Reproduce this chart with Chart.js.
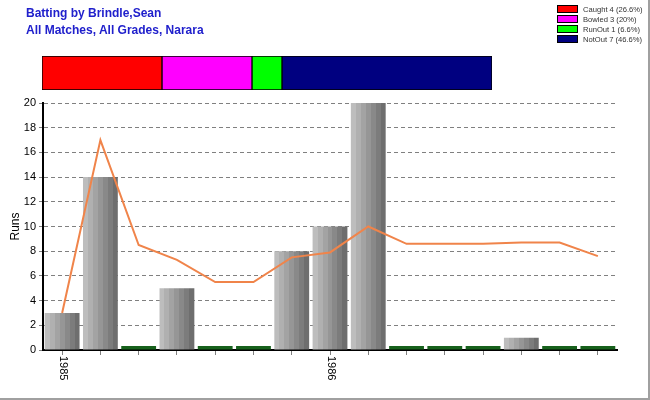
<!DOCTYPE html>
<html>
<head>
<meta charset="utf-8">
<script src="https://cdn.jsdelivr.net/npm/chart.js@4"></script>
<style>
  html, body { margin: 0; padding: 0; background: #fff; }
  #frame {
    position: relative; width: 650px; height: 400px; box-sizing: border-box;
    border-right: 2px solid #a0a0a0; border-bottom: 2px solid #a0a0a0; overflow: hidden;
    font-family: "Liberation Sans", Arial, sans-serif;
  }
  #title {
    position: absolute; left: 26px; top: 5px; color: #2020cc;
    font-weight: bold; font-size: 12px; line-height: 17px;
  }
  #main { position: absolute; left: 0; top: 0; }
  #split { position: absolute; left: 42px; top: 56px; }
  #legend { position: absolute; left: 557px; top: 5px; font-size: 7.6px; color: #333; }
  #legend .row { height: 10px; line-height: 10px; white-space: nowrap; }
  #legend .sw {
    display: inline-block; width: 19px; height: 6px; border: 1px solid #000;
    vertical-align: middle; margin-right: 5px; margin-top: -2px;
  }
</style>
</head>
<body>
<div id="frame">
  <canvas id="main" width="648" height="398"></canvas>
  <canvas id="split" width="450" height="34"></canvas>
  <div id="title">Batting by Brindle,Sean<br>All Matches, All Grades, Narara</div>
  <div id="legend"></div>
</div>
<script>
"use strict";

// innings in order
const INNINGS_LABELS = ["1985", "", "", "", "", "", "", "1986", "", "", "", "", "", "", ""];
const RUNS = [3, 14, 0, 5, 0, 0, 8, 10, 20, 0, 0, 0, 1, 0, 0];
const AVERAGE = [3, 17, 8.5, 7.3, 5.5, 5.5, 7.5, 7.9, 10, 8.6, 8.6, 8.6, 8.7, 8.7, 7.6];
const Y_TICKS = [0, 2, 4, 6, 8, 10, 12, 14, 16, 18, 20];

// how out
const OUT_TYPES = ["Caught", "Bowled", "RunOut", "NotOut"];
const OUT_COUNTS = [4, 3, 1, 7];
const OUT_COLORS = ["#ff0000", "#ff00ff", "#00ff00", "#000080"];

const BAR_BANDS = ["#bdbdbd", "#b0b0b0", "#a3a3a3", "#969696", "#898989", "#7c7c7c", "#6e6e6e"];
const ZERO_COLOR = "#17611c";
const BAR_PCT = 0.91;

function barFill(c) {
  const chart = c.chart;
  const xs = chart.scales.x;
  if (!xs || !chart.chartArea) return BAR_BANDS[3];
  if (c.raw === 0) return ZERO_COLOR;
  const w = (xs.width / RUNS.length) * BAR_PCT;
  const cx = xs.getPixelForValue(c.dataIndex);
  const g = chart.ctx.createLinearGradient(cx - w / 2, 0, cx + w / 2, 0);
  const n = BAR_BANDS.length;
  BAR_BANDS.forEach((col, i) => {
    g.addColorStop(i / n, col);
    g.addColorStop(Math.min(1, (i + 1) / n - 0.0001), col);
  });
  return g;
}

const rotatedLabels = {
  id: "rotatedLabels",
  afterDraw(chart) {
    const xs = chart.scales.x;
    const ctx = chart.ctx;
    ctx.save();
    ctx.font = "11px 'Liberation Sans', Arial, sans-serif";
    ctx.fillStyle = "#000";
    ctx.textAlign = "left";
    ctx.textBaseline = "middle";
    INNINGS_LABELS.forEach((lab, i) => {
      if (!lab) return;
      const x = xs.getPixelForValue(i);
      ctx.save();
      ctx.translate(x + 1, chart.chartArea.bottom + 6);
      ctx.rotate(Math.PI / 2);
      ctx.fillText(lab, 0, 0);
      ctx.restore();
    });
    ctx.restore();
  },
};

new Chart(document.getElementById("main"), {
  type: "bar",
  data: {
    labels: INNINGS_LABELS,
    datasets: [
      {
        type: "line",
        data: AVERAGE,
        borderColor: "#f0844a",
        borderWidth: 2,
        pointRadius: 0,
        tension: 0,
        order: 0,
      },
      {
        data: RUNS,
        backgroundColor: barFill,
        borderWidth: 0,
        minBarLength: 4,
        barPercentage: BAR_PCT,
        categoryPercentage: 1,
        order: 1,
      },
    ],
  },
  options: {
    responsive: false,
    animation: false,
    events: [],
    layout: { padding: { top: 103, right: 31, bottom: 0, left: 0 } },
    plugins: { legend: { display: false }, tooltip: { enabled: false } },
    scales: {
      x: {
        z: 1,
        afterFit: (s) => { s.height = 48; },
        ticks: { display: false },
        grid: { offset: false, drawOnChartArea: false, drawTicks: true, tickLength: 5, color: "#808080" },
        border: { display: true, color: "#000", width: 2 },
      },
      y: {
        min: 0,
        max: 20,
        afterFit: (s) => { s.width = 43; },
        afterBuildTicks: (s) => { s.ticks = Y_TICKS.map((v) => ({ value: v })); },
        ticks: {
          color: "#000",
          padding: 3,
          font: { family: "'Liberation Sans', Arial, sans-serif", size: 11 },
        },
        grid: {
          color: "#808080",
          tickColor: "#808080",
          tickLength: 4,
        },
        border: { display: true, color: "#000", width: 2, dash: [4, 3] },
        title: {
          display: true,
          text: "Runs",
          color: "#000",
          padding: { top: 8, bottom: 0 },
          font: { family: "'Liberation Sans', Arial, sans-serif", size: 12 },
        },
      },
    },
  },
  plugins: [rotatedLabels],
});

// out-type split bar
const total = OUT_COUNTS.reduce((a, b) => a + b, 0);
new Chart(document.getElementById("split"), {
  type: "bar",
  data: {
    labels: [""],
    datasets: OUT_TYPES.map((t, i) => ({
      label: t,
      data: [OUT_COUNTS[i]],
      backgroundColor: OUT_COLORS[i],
      borderColor: "#000",
      borderWidth: 1,
      borderSkipped: false,
      barPercentage: 1,
      categoryPercentage: 1,
    })),
  },
  options: {
    indexAxis: "y",
    responsive: false,
    animation: false,
    events: [],
    layout: { padding: 0 },
    plugins: { legend: { display: false }, tooltip: { enabled: false } },
    scales: {
      x: { stacked: true, min: 0, max: total, display: false },
      y: { stacked: true, display: false },
    },
  },
});

const legend = document.getElementById("legend");
OUT_TYPES.forEach((t, i) => {
  const pct = Math.floor((OUT_COUNTS[i] / total) * 1000) / 10;
  const row = document.createElement("div");
  row.className = "row";
  const sw = document.createElement("span");
  sw.className = "sw";
  sw.style.background = OUT_COLORS[i];
  row.appendChild(sw);
  row.appendChild(document.createTextNode(t + " " + OUT_COUNTS[i] + " (" + pct + "%)"));
  legend.appendChild(row);
});
</script>
</body>
</html>
